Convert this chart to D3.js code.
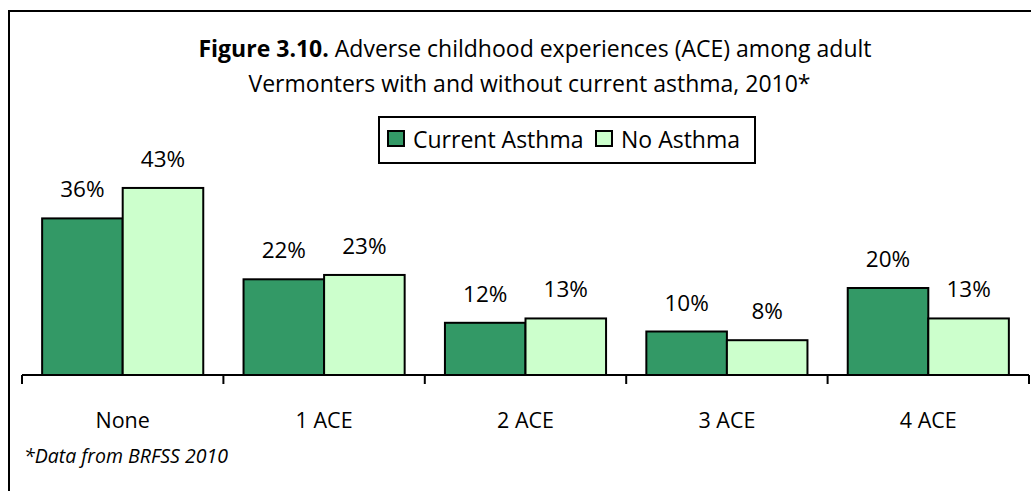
<!DOCTYPE html>
<html>
<head>
<meta charset="utf-8">
<script src="https://cdn.jsdelivr.net/npm/d3@7"></script>
<style>
  html, body { margin: 0; padding: 0; background: #fff; }
  svg { display: block; }
  text { font-family: "Open Sans", "Noto Sans", sans-serif; fill: #000; }
</style>
</head>
<body>
<div id="chart"></div>
<script>
const categories = ["None", "1 ACE", "2 ACE", "3 ACE", "4 ACE"];
const seriesNames = ["Current Asthma", "No Asthma"];
const currentAsthma = [36, 22, 12, 10, 20];
const noAsthma = [43, 23, 13, 8, 13];
const seriesColors = ["#339966", "#CCFFCC"];
const titleBold = "Figure 3.10.";
const titleRest = " Adverse childhood experiences (ACE) among adult";
const titleLine2 = "Vermonters with and without current asthma, 2010*";
const footnote = "*Data from BRFSS 2010";

const W = 1031, H = 491;
const svg = d3.select("#chart").append("svg").attr("width", W).attr("height", H);

// outer frame
svg.append("rect").attr("x", 9).attr("y", 11).attr("width", 1200).attr("height", 700)
  .attr("fill", "none").attr("stroke", "#000").attr("stroke-width", 2);

// title
const t1 = svg.append("text").attr("x", 535).attr("y", 57).attr("text-anchor", "middle")
  .style("font-size", "23px");
t1.append("tspan").style("font-weight", "bold").text(titleBold);
t1.append("tspan").text(titleRest);
svg.append("text").attr("x", 529.5).attr("y", 91.5).attr("text-anchor", "middle")
  .style("font-size", "23px").text(titleLine2);

// scales
const x0 = d3.scaleBand().domain(categories).range([22, 1029]).padding(0);
const x1 = d3.scaleBand().domain(seriesNames).range([0, x0.bandwidth()])
  .paddingInner(0).paddingOuter(0.25);
const y = d3.scaleLinear().domain([0, 50]).range([375, 157.5]);

const data = categories.map((c, i) => ({
  cat: c,
  vals: [
    { s: seriesNames[0], v: currentAsthma[i], color: seriesColors[0] },
    { s: seriesNames[1], v: noAsthma[i], color: seriesColors[1] }
  ]
}));

const groups = svg.append("g").selectAll("g").data(data).join("g")
  .attr("transform", d => `translate(${x0(d.cat)},0)`);

groups.selectAll("rect").data(d => d.vals).join("rect")
  .attr("x", d => x1(d.s))
  .attr("y", d => y(d.v))
  .attr("width", x1.bandwidth())
  .attr("height", d => y(0) - y(d.v))
  .attr("fill", d => d.color)
  .attr("stroke", "#000").attr("stroke-width", 2);

groups.selectAll("text.lbl").data(d => d.vals).join("text")
  .attr("class", "lbl")
  .attr("x", d => x1(d.s) + x1.bandwidth() / 2)
  .attr("y", d => y(d.v) - 21)
  .attr("text-anchor", "middle")
  .style("font-size", "22.5px")
  .text(d => d.v + "%");

// x axis
const axG = svg.append("g").attr("transform", "translate(0,375)");
axG.append("line").attr("x1", x0.range()[0]).attr("x2", x0.range()[1])
  .attr("stroke", "#000").attr("stroke-width", 2);
const tickPos = categories.map(c => x0(c)).concat([x0.range()[1]]);
axG.selectAll("line.tick").data(tickPos).join("line").attr("class", "tick")
  .attr("x1", d => d).attr("x2", d => d).attr("y1", 0).attr("y2", 9)
  .attr("stroke", "#000").attr("stroke-width", 2);
axG.selectAll("text.cat").data(categories).join("text").attr("class", "cat")
  .attr("x", d => x0(d) + x0.bandwidth() / 2)
  .attr("y", 53)
  .attr("text-anchor", "middle")
  .style("font-size", "21.5px")
  .text(d => d);

// legend
const lg = svg.append("g");
lg.append("rect").attr("x", 379).attr("y", 117).attr("width", 376).attr("height", 46)
  .attr("fill", "#fff").attr("stroke", "#000").attr("stroke-width", 2);
const legX = [388, 596];
seriesNames.forEach((s, i) => {
  lg.append("rect").attr("x", legX[i]).attr("y", 131).attr("width", 16).attr("height", 15)
    .attr("fill", seriesColors[i]).attr("stroke", "#000").attr("stroke-width", 2);
  lg.append("text").attr("x", legX[i] + 25).attr("y", 147.5)
    .style("font-size", "23px").text(s);
});

// footnote
svg.append("text").attr("x", 24).attr("y", 463).style("font-size", "19.5px")
  .style("font-style", "italic").text(footnote);
</script>
</body>
</html>
